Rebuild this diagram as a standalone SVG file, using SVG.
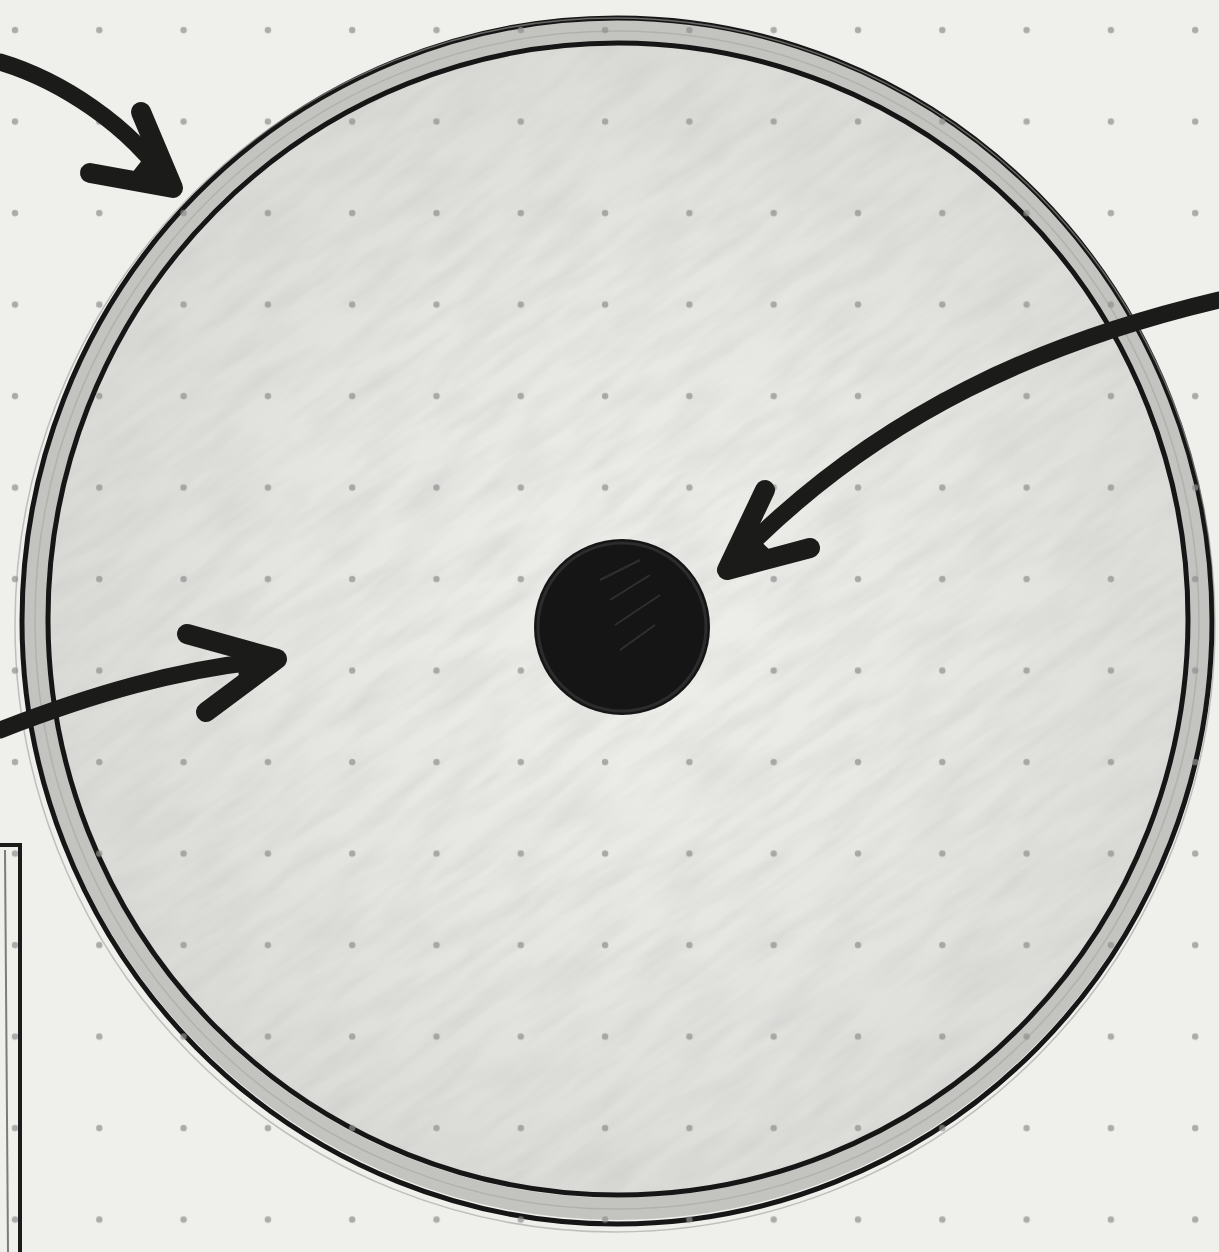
<svg xmlns="http://www.w3.org/2000/svg" width="1219" height="1252" viewBox="0 0 1219 1252">
  <style>
    .ink { stroke: #1b1b19; fill: none; stroke-linecap: round; stroke-linejoin: round; }
    .shaft { stroke-width: 17; }
    .barb { stroke-width: 20; }
    .head { fill: #1b1b19; }
    .ring { stroke: #161616; fill: none; stroke-width: 5; }
  </style>
  <defs>
    <pattern id="dots" patternUnits="userSpaceOnUse" x="0" y="0" width="84.3" height="91.5">
      <circle cx="15" cy="30" r="3.2" fill="#8f8f8d" opacity="0.7"/>
    </pattern>
    <radialGradient id="shade" cx="0.52" cy="0.5" r="0.55">
      <stop offset="0" stop-color="#efefec"/>
      <stop offset="0.55" stop-color="#e5e5e2"/>
      <stop offset="1" stop-color="#d8d8d5"/>
    </radialGradient>
    <filter id="grain" x="0" y="0" width="100%" height="100%">
      <feTurbulence type="fractalNoise" baseFrequency="0.012 0.06" numOctaves="3" seed="4" result="n"/>
      <feColorMatrix in="n" type="matrix" values="0 0 0 0 0.55  0 0 0 0 0.55  0 0 0 0 0.54  0 0 0 -1.6 1.05" result="m"/>
      <feComposite in="m" in2="SourceGraphic" operator="in"/>
    </filter>
  </defs>

  <rect x="0" y="0" width="1219" height="1252" fill="#efefec"/>

  <g id="disc">
    <ellipse cx="617" cy="621" rx="583" ry="590" fill="url(#shade)"/>
    <g transform="rotate(-35 617 621)">
      <ellipse cx="617" cy="621" rx="575" ry="582" fill="#000" filter="url(#grain)" opacity="0.4"/>
    </g>
    <ellipse cx="617" cy="620" rx="582" ry="589" fill="none" stroke="#c3c3c0" stroke-width="22"/>
    <ellipse cx="617" cy="620" rx="582" ry="589" fill="none" stroke="#a9a9a6" stroke-width="1.5" opacity="0.7"/>
    <ellipse cx="617" cy="621" rx="595" ry="603" class="ring"/>
    <ellipse cx="618" cy="619" rx="570" ry="576" class="ring"/>
    <ellipse cx="615" cy="625" rx="600" ry="607" fill="none" stroke="#9d9d9a" stroke-width="1.5" opacity="0.6"/>
  </g>

  <rect x="0" y="0" width="1219" height="1252" fill="url(#dots)"/>

  <g id="core">
    <circle cx="622" cy="627" r="88" fill="#151515"/>
    <circle cx="622" cy="627" r="84" fill="none" stroke="#2c2c2c" stroke-width="3"/>
    <path d="M600 580 L640 560 M610 600 L650 575 M615 625 L660 595 M620 650 L655 625" stroke="#3a3a3a" stroke-width="2" fill="none" opacity="0.7"/>
  </g>

  <g id="sheet">
    <path d="M0 845 L20 845 L20 1252" fill="none" stroke="#1b1b1b" stroke-width="4"/>
    <path d="M5 850 L8 1252" fill="none" stroke="#7c7c7a" stroke-width="2"/>
  </g>

  <g id="connectors">
    <path class="ink shaft" d="M0 62 C60 80 130 125 170 185"/>
    <path class="ink barb" d="M141 112 L173 188 L90 173"/>
    <path class="head" d="M150 150 L176 191 L128 178 Z"/>

    <path class="ink shaft" d="M1219 300 C1050 340 880 410 735 560"/>
    <path class="ink barb" d="M765 490 L727 570 L810 548"/>
    <path class="head" d="M744 525 L724 572 L775 555 Z"/>

    <path class="ink shaft" d="M0 730 C90 695 180 668 272 660"/>
    <path class="ink barb" d="M187 634 L277 659 L206 712"/>
    <path class="head" d="M235 645 L279 659 L240 685 Z"/>
  </g>
</svg>
